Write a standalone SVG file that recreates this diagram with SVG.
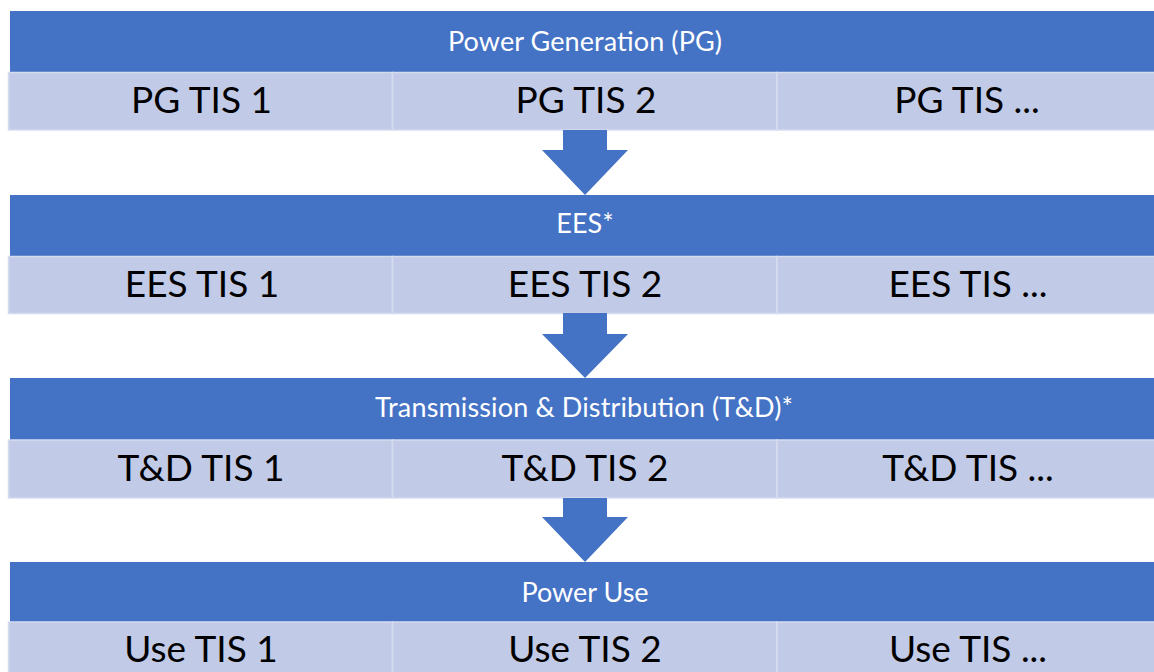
<svg xmlns="http://www.w3.org/2000/svg" width="1154" height="672" viewBox="0 0 1154 672">
  <style>
    .band { fill: #4472C4; }
    .cell { fill: #C1CAE7; stroke: #D6DCEF; stroke-width: 1.5; }
    .arrow { fill: #4472C4; }
    .htxt { font-family: Lato, "Open Sans", sans-serif; font-size: 27px; fill: #FFFFFF; text-anchor: middle; }
    .ctxt { font-family: Lato, "Open Sans", sans-serif; font-size: 37px; fill: #000000; text-anchor: middle; }
  </style>
  <rect x="0" y="0" width="1154" height="672" fill="#FFFFFF"/>

  <g id="pg">
    <rect class="band" x="10" y="11" width="1154" height="61"/>
    <text class="htxt" x="585" y="51" textLength="274">Power Generation (PG)</text>
  </g>
  <g id="pg-tis-1"><rect class="cell" x="8.5" y="72.5" width="384" height="57.5"/><text class="ctxt" x="201.5" y="113">PG TIS 1</text></g>
  <g id="pg-tis-2"><rect class="cell" x="392.5" y="72.5" width="384.5" height="57.5"/><text class="ctxt" x="586" y="113">PG TIS 2</text></g>
  <g id="pg-tis-n"><rect class="cell" x="777" y="72.5" width="390" height="57.5"/><text class="ctxt" x="967" y="113">PG TIS ...</text></g>

  <g id="ees">
    <rect class="band" x="10" y="195" width="1154" height="61"/>
    <text class="htxt" x="585" y="233">EES*</text>
  </g>
  <g id="ees-tis-1"><rect class="cell" x="8.5" y="256.5" width="384" height="57"/><text class="ctxt" x="202" y="297">EES TIS 1</text></g>
  <g id="ees-tis-2"><rect class="cell" x="392.5" y="256.5" width="384.5" height="57"/><text class="ctxt" x="585" y="297">EES TIS 2</text></g>
  <g id="ees-tis-n"><rect class="cell" x="777" y="256.5" width="390" height="57"/><text class="ctxt" x="968" y="297">EES TIS ...</text></g>

  <g id="td">
    <rect class="band" x="10" y="378" width="1154" height="62"/>
    <text class="htxt" x="584" y="417" textLength="418">Transmission &amp; Distribution (T&amp;D)*</text>
  </g>
  <g id="td-tis-1"><rect class="cell" x="8.5" y="440" width="384" height="58"/><text class="ctxt" x="201" y="481">T&amp;D TIS 1</text></g>
  <g id="td-tis-2"><rect class="cell" x="392.5" y="440" width="384.5" height="58"/><text class="ctxt" x="585" y="481">T&amp;D TIS 2</text></g>
  <g id="td-tis-n"><rect class="cell" x="777" y="440" width="390" height="58"/><text class="ctxt" x="968" y="481">T&amp;D TIS ...</text></g>

  <g id="use">
    <rect class="band" x="10" y="562" width="1154" height="60"/>
    <text class="htxt" x="585" y="602">Power Use</text>
  </g>
  <g id="use-tis-1"><rect class="cell" x="8.5" y="622" width="384" height="60"/><text class="ctxt" x="201" y="662">Use TIS 1</text></g>
  <g id="use-tis-2"><rect class="cell" x="392.5" y="622" width="384.5" height="60"/><text class="ctxt" x="585" y="662">Use TIS 2</text></g>
  <g id="use-tis-n"><rect class="cell" x="777" y="622" width="390" height="60"/><text class="ctxt" x="968" y="662">Use TIS ...</text></g>

  <g id="connectors">
    <polygon class="arrow" points="563,130 607,130 607,150 628,150 585,195 542,150 563,150"/>
    <polygon class="arrow" points="563,313 607,313 607,334 628,334 585,378 542,334 563,334"/>
    <polygon class="arrow" points="563,498 607,498 607,517 628,517 585,562 542,517 563,517"/>
  </g>
</svg>
